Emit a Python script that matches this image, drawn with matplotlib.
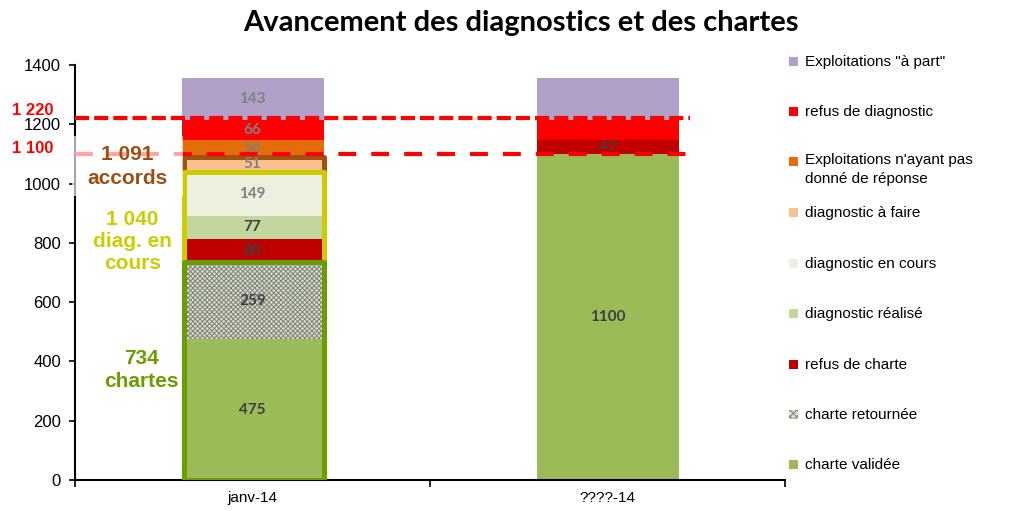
import matplotlib
matplotlib.use("Agg")
import matplotlib.pyplot as plt
from matplotlib.patches import Rectangle
import matplotlib.transforms as mtransforms

# ---------------- data ----------------
categories = ["janv-14", "????-14"]
series_names = ["charte validée", "charte retournée", "refus de charte",
                "diagnostic réalisé", "diagnostic en cours", "diagnostic à faire",
                "Exploitations n'ayant pas\ndonné de réponse", "refus de diagnostic",
                "Exploitations \"à part\""]
charte_validee = [475, 1100]
charte_retournee = [259, 0]
refus_charte = [80, 47]
diag_realise = [77, 0]
diag_en_cours = [149, 0]
diag_a_faire = [51, 0]
sans_reponse = [56, 0]
refus_diag = [66, 66]
a_part = [143, 143]
series_values = [charte_validee, charte_retournee, refus_charte, diag_realise,
                 diag_en_cours, diag_a_faire, sans_reponse, refus_diag, a_part]
# which labels are shown per category
label_shown = [[True, True], [True, False], [True, True], [True, False],
               [True, False], [True, False], [True, False], [True, False], [True, False]]
colors = ["#9BBB59", "#D8DDCC", "#C00000", "#C3D69B", "#EBF1DE", "#FAC090",
          "#E46C0A", "#FF0000", "#B1A0C7"]
label_colors = ["#404040", "#404040", "#404040", "#404040", "#808080", "#808080",
                "#808080", "#808080", "#808080"]
ref_lines = [1220, 1100]
ref_labels = ["1 220", "1 100"]
accords = 1091
diag_cours_total = 1040
chartes_total = 734

yticks = [0, 200, 400, 600, 800, 1000, 1200, 1400]

# ---------------- figure ----------------
W, H = 1009, 511
fig = plt.figure(figsize=(W / 100, H / 100), dpi=100)
ax_left, ax_right, ax_bottom, ax_top = 75, 785, 480, 65
ax = fig.add_axes([ax_left / W, (H - ax_bottom) / H,
                   (ax_right - ax_left) / W, (ax_bottom - ax_top) / H])
plt.rcParams['hatch.linewidth'] = 0.7

x = list(range(len(categories)))
bw = 0.4
bottoms = [0] * len(categories)
for i, (vals, col) in enumerate(zip(series_values, colors)):
    if i == 1:
        kw = dict(hatch="xxxxxxx", edgecolor="#7F847A", linewidth=0)
    else:
        kw = dict(edgecolor="none", linewidth=0)
    ax.bar(x, vals, bw, bottom=bottoms, color=col, zorder=2, **kw)
    for j, v in enumerate(vals):
        if v > 0 and label_shown[i][j]:
            ax.text(x[j], bottoms[j] + v / 2, str(v), ha="center", va="center",
                    fontsize=11, fontweight="bold", family="Lato",
                    color=label_colors[i], zorder=8)
    bottoms = [b + v for b, v in zip(bottoms, vals)]

ax.set_xlim(-0.5, 1.5)
ax.set_ylim(0, 1400)
ax.set_yticks(yticks)
ax.set_yticklabels([str(t) for t in yticks], fontsize=12, family="Liberation Sans")
ax.set_xticks([-0.5, 0.5, 1.5])
ax.set_xticklabels([])
ax.set_xticks(x, minor=True)
ax.set_xticklabels(categories, minor=True, fontsize=11, family="Liberation Sans")
ax.tick_params(axis="x", which="minor", length=0, pad=8)
ax.tick_params(axis="x", which="major", length=5, width=1.2, direction="out")
ax.tick_params(axis="y", length=4, width=1.2, direction="out", pad=6)
for s in ["top", "right"]:
    ax.spines[s].set_visible(False)
ax.spines["left"].set_linewidth(1.5)
ax.spines["bottom"].set_linewidth(1.5)

# framed groups on the first bar
box_specs = [(accords, "#A0520F"), (diag_cours_total, "#CCCC00"), (chartes_total, "#6A9E00")]
for k, (top, ec) in enumerate(box_specs):
    ax.add_patch(Rectangle((x[0] - bw / 2 + 0.006, 0), bw - 0.006, top, fill=False,
                           edgecolor=ec, linewidth=3.6, zorder=5 + k * 0.1,
                           joinstyle="round"))

# reference dashed lines
x_end = (690 - 253) / 355.0
ax.plot([-0.5, x_end], [ref_lines[0], ref_lines[0]], color="#FF0000", lw=3,
        dashes=(3.4, 1.2), zorder=9, clip_on=False)
ax.plot([-0.5, x_end], [ref_lines[1], ref_lines[1]], color="#FF0000", lw=3,
        dashes=(4.3, 3.6), zorder=9, clip_on=False)
trans = mtransforms.blended_transform_factory(fig.transFigure, ax.transData)
for v, lab, dy in zip(ref_lines, ref_labels, [28, 18]):
    ax.text(33 / W, v + dy, lab, transform=trans, ha="center", va="center",
            color="#FF0000", fontsize=12, fontweight="bold", family="Liberation Sans")

# translucent white panel behind the "accords" label
ax.add_patch(Rectangle((-0.5 - 3 / 355, 958), (183 - 72) / 355, 202, facecolor="white",
                       edgecolor="none", alpha=0.65, zorder=10, clip_on=False))

ax.text((128 - 253) / 355, 1057, f"{accords:,}".replace(",", " ") + "\naccords",
        ha="center", va="center", color="#9C4F10", fontsize=15, fontweight="bold",
        family="Liberation Sans", linespacing=1.3, zorder=11)
ax.text((133 - 253) / 355, 806, f"{diag_cours_total:,}".replace(",", " ") + "\ndiag. en\ncours",
        ha="center", va="center", color="#CCCC00", fontsize=15, fontweight="bold",
        family="Liberation Sans", linespacing=1.2, zorder=11)
ax.text((142 - 253) / 355, 371, f"{chartes_total}\nchartes",
        ha="center", va="center", color="#6A9E00", fontsize=15, fontweight="bold",
        family="Liberation Sans", linespacing=1.3, zorder=11)

# title
fig.text(521 / W, 1 - 23 / H, "Avancement des diagnostics et des chartes",
         ha="center", va="center", fontsize=21, fontweight="bold", family="Lato")

# legend (top to bottom)
leg_y = [62, 112, 162, 213, 264, 314, 365, 415, 465]
for idx, yy in zip(range(len(series_names) - 1, -1, -1), leg_y):
    if idx == 1:
        hatch_kw = dict(hatch="xxxxx", edgecolor="#7F847A", linewidth=0)
    else:
        hatch_kw = dict(edgecolor="none")
    fig.patches.append(Rectangle((789 / W, 1 - (yy + 4) / H), 9 / W, 9 / H,
                                 facecolor=colors[idx], transform=fig.transFigure,
                                 figure=fig, **hatch_kw))
    if "\n" in series_names[idx]:
        fig.text(805 / W, 1 - (yy - 9) / H, series_names[idx], ha="left", va="top",
                 fontsize=11, family="Liberation Sans", linespacing=1.45)
    else:
        fig.text(805 / W, 1 - yy / H, series_names[idx], ha="left", va="center",
                 fontsize=11, family="Liberation Sans")

fig.savefig("out.png", dpi=100)
